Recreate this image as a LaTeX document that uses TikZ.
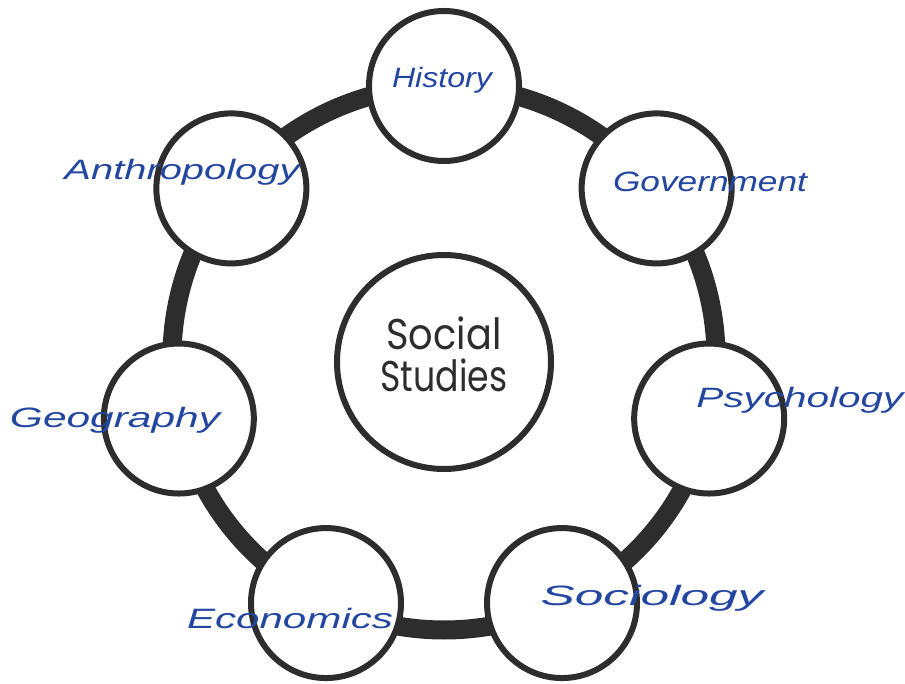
\documentclass[tikz,border=0pt]{standalone}
\usepackage{fontspec}
\usepackage{graphicx}
\setmainfont{Liberation Sans}
\newfontfamily\corefont{Poppins}
\usetikzlibrary{calc}
\pgfdeclarelayer{bg}
\pgfsetlayers{bg,main}
\definecolor{ink}{RGB}{45,45,45}
\definecolor{pen}{RGB}{35,70,160}
\begin{document}
\begin{tikzpicture}[x=1pt,y=1pt,
  topic/.style={circle,draw=ink,line width=6pt,fill=white,minimum size=150pt,inner sep=0pt},
  core/.style={circle,draw=ink,line width=6pt,fill=white,minimum size=214pt,inner sep=0pt},
  ring/.style={draw=ink,line width=19pt,bend left=25.71,looseness=0.9},
  hand/.style={text=pen,font=\fontsize{28}{30}\selectfont\itshape,inner sep=0pt},
  coretext/.style={text=ink,font=\fontsize{43}{45}\selectfont\corefont,inner sep=0pt,anchor=base}]
\useasboundingbox (0,0) rectangle (905,683);
\coordinate (o) at (444,325);
\foreach \n [count=\i from 0] in {hist,gov,psy,soc,eco,geo,ant}
  \node[topic] (\n) at ($(o)+({90-\i*51.4286}:272)$) {};
\begin{pgfonlayer}{bg}
  \fill[white] (0,0) rectangle (905,683);
  \draw[ring] (hist.center) to (gov.center);
  \draw[ring] (gov.center) to (psy.center);
  \draw[ring] (psy.center) to (soc.center);
  \draw[ring] (soc.center) to (eco.center);
  \draw[ring] (eco.center) to (geo.center);
  \draw[ring] (geo.center) to (ant.center);
  \draw[ring] (ant.center) to (hist.center);
\end{pgfonlayer}
\node[core] (ss) at (444,321) {};
\node[coretext] (ss1) at (444,333) {\resizebox{115pt}{\height}{Social}};
\node[coretext] (ss2) at (444,291) {\resizebox{127pt}{\height}{Studies}};
\node[hand] (lhist) at (442,603) {\resizebox{100pt}{\height}{History}};
\node[hand] (lgov) at (710,501) {\resizebox{194pt}{\height}{Government}};
\node[hand] (lpsy) at (800,283) {\resizebox{207pt}{\height}{Psychology}};
\node[hand] (lsoc) at (652,85) {\resizebox{223pt}{\height}{Sociology}};
\node[hand] (leco) at (290,65) {\resizebox{206pt}{\height}{Economics}};
\node[hand] (lgeo) at (115,263) {\resizebox{210pt}{\height}{Geography}};
\node[hand] (lant) at (182,511) {\resizebox{235pt}{\height}{Anthropology}};
\end{tikzpicture}
\end{document}
